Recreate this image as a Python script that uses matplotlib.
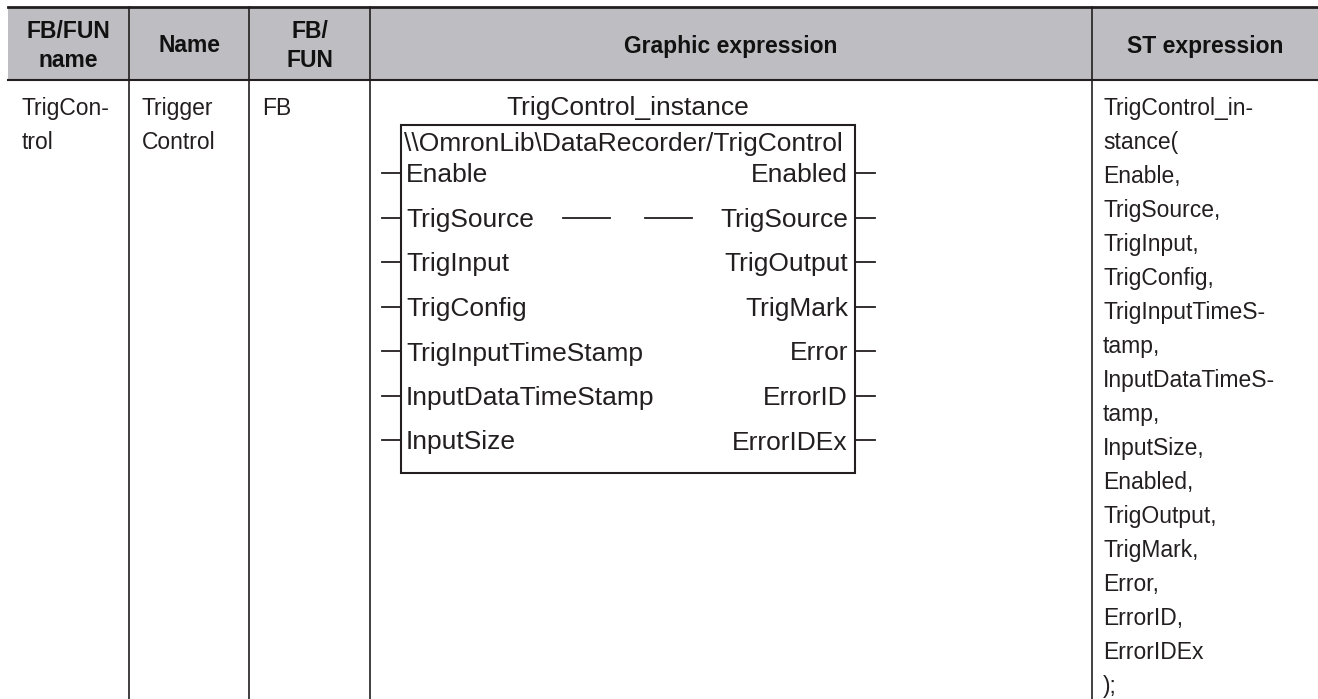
import matplotlib.pyplot as plt
from matplotlib.patches import Rectangle

plt.rcParams['font.family'] = ['Liberation Sans', 'DejaVu Sans']

header = ['FB/FUN\nname', 'Name', 'FB/\nFUN', 'Graphic expression', 'ST expression']
col_edges = [8, 129, 249, 370, 1092, 1318]
row_fb = ['TrigCon-\ntrol', 'Trigger\nControl', 'FB']
instance_name = 'TrigControl_instance'
fb_path = '\\\\OmronLib\\DataRecorder/TrigControl'
inputs = ['Enable', 'TrigSource', 'TrigInput', 'TrigConfig',
          'TrigInputTimeStamp', 'InputDataTimeStamp', 'InputSize']
outputs = ['Enabled', 'TrigSource', 'TrigOutput', 'TrigMark',
           'Error', 'ErrorID', 'ErrorIDEx']
st_lines = ['TrigControl_in-', 'stance(', 'Enable,', 'TrigSource,', 'TrigInput,',
            'TrigConfig,', 'TrigInputTimeS-', 'tamp,', 'InputDataTimeS-', 'tamp,',
            'InputSize,', 'Enabled,', 'TrigOutput,', 'TrigMark,', 'Error,',
            'ErrorID,', 'ErrorIDEx', ');']

ink = '#231f20'
fs = 16.5
fs_box = 19

fig = plt.figure(figsize=(13.18, 6.99), dpi=100)
ax = fig.add_axes([0, 0, 1, 1])
ax.set_xlim(0, 1318)
ax.set_ylim(699, 0)
ax.axis('off')

# header band
ax.add_patch(Rectangle((8, 7), 1310, 73, facecolor='#bebec2', edgecolor='none'))
ax.plot([8, 1318], [7, 7], color=ink, lw=2)
ax.plot([8, 1318], [80, 80], color=ink, lw=1.5)
for x in col_edges[1:-1]:
    ax.plot([x, x], [7, 699], color=ink, lw=1.2)

for i, h in enumerate(header):
    cx = (col_edges[i] + col_edges[i + 1]) / 2
    ax.text(cx, 46, h, ha='center', va='center', fontsize=fs, fontweight='bold',
            color='#111111', linespacing=1.3)

# first three columns
for i, t in enumerate(row_fb):
    x = col_edges[i] + (14 if i == 0 else 13)
    ax.text(x, 106, t.split('\n')[0], ha='left', va='center_baseline', fontsize=fs, color=ink)
    if '\n' in t:
        ax.text(x, 140, t.split('\n')[1], ha='left', va='center_baseline', fontsize=fs, color=ink)

# function block
bx0, bx1, by0, by1 = 401, 855, 125, 473
ax.add_patch(Rectangle((bx0, by0), bx1 - bx0, by1 - by0, facecolor='none',
                       edgecolor=ink, lw=1.5))
ax.text((bx0 + bx1) / 2, 105, instance_name, ha='center', va='center_baseline',
        fontsize=fs_box, color=ink)
ax.text(bx0 + 3, 142, fb_path, ha='left', va='center_baseline', fontsize=fs_box, color=ink)
for k, (a, b) in enumerate(zip(inputs, outputs)):
    y = 173 + k * 44.5
    ax.plot([382, bx0], [y, y], color=ink, lw=1.3)
    ax.plot([bx1, 875], [y, y], color=ink, lw=1.3)
    ax.text(bx0 + 5, y, a, ha='left', va='center_baseline', fontsize=fs_box, color=ink)
    ax.text(bx1 - 7, y, b, ha='right', va='center_baseline', fontsize=fs_box, color=ink)
    if a == b:
        ax.plot([563, 610], [y, y], color=ink, lw=1.3)
        ax.plot([645, 692], [y, y], color=ink, lw=1.3)

# ST expression column
for k, t in enumerate(st_lines):
    ax.text(1103, 106 + k * 34, t, ha='left', va='center_baseline', fontsize=fs, color=ink)

fig.savefig('out.png', dpi=100)
